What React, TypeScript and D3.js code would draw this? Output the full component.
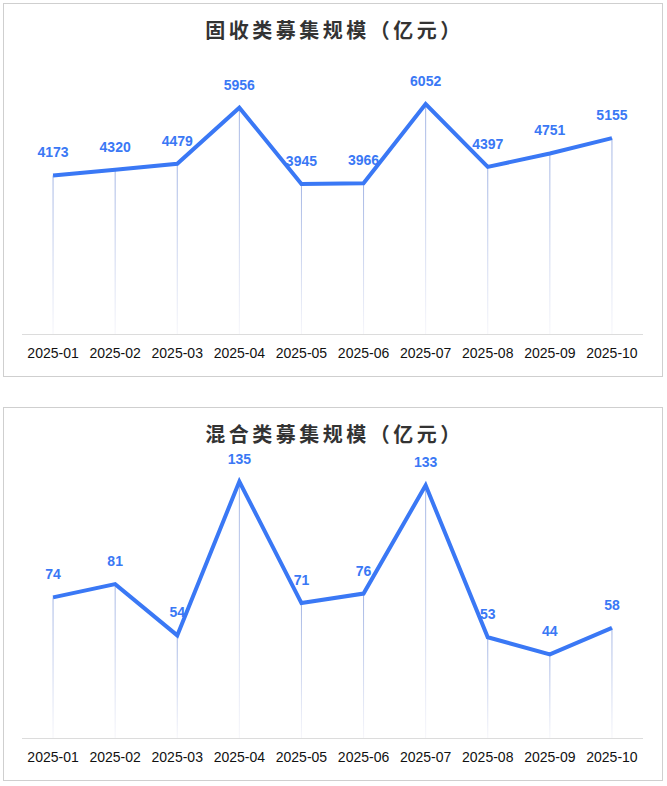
import { useEffect, useRef } from "react";
import * as d3 from "d3";

const months = [
  "2025-01", "2025-02", "2025-03", "2025-04", "2025-05",
  "2025-06", "2025-07", "2025-08", "2025-09", "2025-10",
];
const fixedIncome = [4173, 4320, 4479, 5956, 3945, 3966, 6052, 4397, 4751, 5155];
const mixed = [74, 81, 54, 135, 71, 76, 133, 53, 44, 58];

const blue = "#3a78f5";

type PanelProps = {
  top: number;
  title: string;
  values: number[];
  yMax: number;
  id: string;
};

function Panel({ top, title, values, yMax, id }: PanelProps) {
  const ref = useRef<SVGGElement | null>(null);

  useEffect(() => {
    const g = d3.select(ref.current);
    g.selectAll("*").remove();

    const panelW = 659;
    const panelH = 373;
    const margin = { left: 19, right: 19, top: 27, bottom: 42 };

    g.append("rect")
      .attr("x", 0.5)
      .attr("y", 0.5)
      .attr("width", panelW)
      .attr("height", panelH)
      .attr("fill", "#fff")
      .attr("stroke", "#cfcfcf");

    const x = d3
      .scaleBand()
      .domain(months)
      .range([margin.left, panelW - margin.right]);

    const y = d3
      .scaleLinear()
      .domain([0, yMax])
      .range([panelH - margin.bottom, margin.top]);

    const cx = (m: string) => (x(m) ?? 0) + x.bandwidth() / 2;
    const base = y(0);

    const grad = g
      .append("defs")
      .append("linearGradient")
      .attr("id", id)
      .attr("x1", 0)
      .attr("y1", 0)
      .attr("x2", 0)
      .attr("y2", 1);
    grad.append("stop").attr("offset", "0%").attr("stop-color", "#a3b5e4");
    grad.append("stop").attr("offset", "100%").attr("stop-color", "#f6f6fa");

    // drop lines
    g.append("g")
      .selectAll("rect")
      .data(values)
      .join("rect")
      .attr("x", (_, i) => cx(months[i]) - 0.5)
      .attr("y", (d) => y(d))
      .attr("width", 1)
      .attr("height", (d) => base - y(d))
      .attr("fill", `url(#${id})`);

    // axis line
    g.append("line")
      .attr("x1", margin.left)
      .attr("x2", panelW - margin.right)
      .attr("y1", base + 0.5)
      .attr("y2", base + 0.5)
      .attr("stroke", "#dcdcdc");

    // x labels
    g.append("g")
      .selectAll("text")
      .data(months)
      .join("text")
      .attr("x", (m) => cx(m))
      .attr("y", base + 24)
      .attr("text-anchor", "middle")
      .attr("font-family", "'Liberation Sans', Arial, sans-serif")
      .attr("font-size", 14)
      .attr("fill", "#111")
      .text((m) => m);

    const line = d3
      .line<number>()
      .x((_, i) => cx(months[i]))
      .y((d) => y(d));

    g.append("path")
      .datum(values)
      .attr("fill", "none")
      .attr("stroke", blue)
      .attr("stroke-width", 4)
      .attr("d", line);

    g.append("g")
      .selectAll("text")
      .data(values)
      .join("text")
      .attr("x", (_, i) => cx(months[i]))
      .attr("y", (d) => y(d) - 18)
      .attr("text-anchor", "middle")
      .attr("font-family", "'Liberation Sans', Arial, sans-serif")
      .attr("font-weight", "bold")
      .attr("font-size", 14)
      .attr("fill", blue)
      .text((d) => d);

    g.append("text")
      .attr("x", panelW / 2 + 2)
      .attr("y", 35)
      .attr("text-anchor", "middle")
      .attr("font-family", "'Noto Sans CJK SC', sans-serif")
      .attr("font-weight", "bold")
      .attr("font-size", 20)
      .attr("letter-spacing", 3.5)
      .attr("fill", "#333")
      .text(title);
  }, [top, title, values, yMax, id]);

  return <g ref={ref} transform={`translate(3,${top})`} />;
}

export default function App() {
  return (
    <svg
      width={667}
      height={786}
      style={{ position: "absolute", left: 0, top: 0 }}
    >
      <rect width={667} height={786} fill="#fff" />
      <Panel top={3} title="固收类募集规模（亿元）" values={fixedIncome} yMax={8000} id="g1" />
      <Panel top={407} title="混合类募集规模（亿元）" values={mixed} yMax={160} id="g2" />
    </svg>
  );
}
